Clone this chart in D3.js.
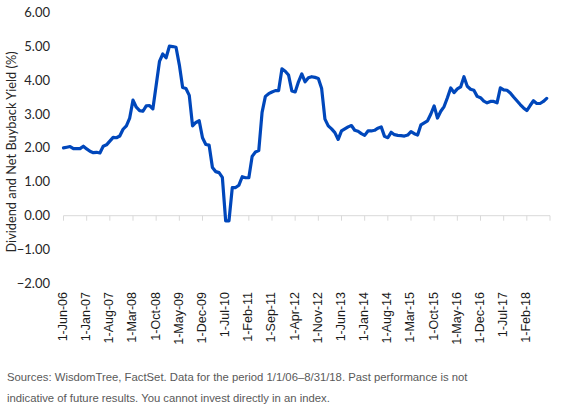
<!DOCTYPE html>
<html>
<head>
<meta charset="utf-8">
<script src="https://cdn.jsdelivr.net/npm/d3@7"></script>
<style>
  body { margin: 0; background: #fff; }
  svg { display: block; }
</style>
</head>
<body>
<div id="chart"></div>
<script>
// monthly yield, 1-Jun-06 .. 1-Aug-18
var yields = [
  2.00, 2.02, 2.04, 1.98, 1.98, 1.98, 2.05, 1.97, 1.90, 1.86, 1.87, 1.85,
  2.05, 2.09, 2.20, 2.31, 2.30, 2.35, 2.55, 2.65, 2.88, 3.41, 3.20, 3.10,
  3.08, 3.24, 3.25, 3.15, 3.85, 4.55, 4.77, 4.66, 5.00, 4.99, 4.97, 4.45,
  3.78, 3.75, 3.55, 2.65, 2.75, 2.80, 2.30, 2.10, 2.08, 1.42, 1.30, 1.27,
  1.13, -0.15, -0.15, 0.83, 0.83, 0.90, 1.15, 1.12, 1.12, 1.75, 1.88, 1.92,
  3.05, 3.52, 3.60, 3.65, 3.69, 3.69, 4.33, 4.26, 4.15, 3.68, 3.65, 3.95,
  4.18, 3.95, 4.07, 4.10, 4.08, 4.05, 3.75, 2.85, 2.65, 2.56, 2.45, 2.25,
  2.50, 2.56, 2.62, 2.66, 2.52, 2.49, 2.42, 2.37, 2.50, 2.50, 2.52, 2.58,
  2.62, 2.34, 2.30, 2.46, 2.39, 2.37, 2.36, 2.35, 2.38, 2.48, 2.42, 2.38,
  2.68, 2.74, 2.80, 3.00, 3.24, 2.88, 3.08, 3.22, 3.48, 3.77, 3.63, 3.74,
  3.80, 4.10, 3.82, 3.73, 3.70, 3.52, 3.48, 3.38, 3.33, 3.37, 3.37, 3.33,
  3.77, 3.71, 3.70, 3.62, 3.50, 3.39, 3.28, 3.18, 3.10, 3.25, 3.39, 3.31,
  3.31, 3.37, 3.46
];

var tickLabels = ["1-Jun-06", "1-Jan-07", "1-Aug-07", "1-Mar-08", "1-Oct-08", "1-May-09",
  "1-Dec-09", "1-Jul-10", "1-Feb-11", "1-Sep-11", "1-Apr-12", "1-Nov-12", "1-Jun-13",
  "1-Jan-14", "1-Aug-14", "1-Mar-15", "1-Oct-15", "1-May-16", "1-Dec-16", "1-Jul-17", "1-Feb-18"];

var yTicks = [-2, -1, 0, 1, 2, 3, 4, 5, 6];

var footnote = [
  "Sources: WisdomTree, FactSet. Data for the period 1/1/06\u20138/31/18. Past performance is not",
  "indicative of future results. You cannot invest directly in an index."
];

var width = 579, height = 410;
var tickStep = 7; // months between labels

var svg = d3.select("#chart").append("svg")
    .attr("width", width)
    .attr("height", height);

svg.append("rect").attr("width", width).attr("height", height).attr("fill", "#fff");

// month index scale (one extra month at the end, like the source axis)
var x = d3.scaleLinear()
    .domain([0, yields.length])
    .range([63.5, 550]);

var y = d3.scaleLinear()
    .domain([-2, 6])
    .range([283.5, 12.3]);

// y labels
svg.append("g")
  .selectAll("text")
  .data(yTicks)
  .enter().append("text")
    .attr("x", 50)
    .attr("y", function(d) { return y(d); })
    .attr("dy", "0.35em")
    .attr("text-anchor", "end")
    .style("font-family", "Lato, 'Open Sans', sans-serif")
    .style("font-size", "13px")
    .style("fill", "#262626")
    .text(function(d) { return d3.format(".2f")(d); });

// y title
svg.append("text")
    .attr("transform", "translate(16," + 152 + ")rotate(-90)")
    .attr("text-anchor", "middle")
    .style("font-family", "Lato, 'Open Sans', sans-serif")
    .style("font-size", "12.8px")
    .style("fill", "#262626")
    .text("Dividend and Net Buyback Yield (%)");

// zero axis with tick marks
var tickIdx = d3.range(0, yields.length + 1, tickStep);
var axis = svg.append("g");
axis.append("line")
    .attr("x1", x(0)).attr("x2", x(yields.length))
    .attr("y1", y(0)).attr("y2", y(0))
    .attr("stroke", "#d9d9d9")
    .attr("stroke-width", 1);
axis.selectAll(".tk")
  .data(tickIdx)
  .enter().append("line")
    .attr("class", "tk")
    .attr("x1", function(d) { return x(d); })
    .attr("x2", function(d) { return x(d); })
    .attr("y1", y(0))
    .attr("y2", y(0) + 5)
    .attr("stroke", "#d9d9d9");

// x labels at the bottom of the plot
svg.append("g")
  .selectAll("text")
  .data(tickLabels)
  .enter().append("text")
    .attr("transform", function(d, i) {
      return "translate(" + (x(i * tickStep) - 1) + ",292)rotate(-90)";
    })
    .attr("dy", "0.35em")
    .attr("text-anchor", "end")
    .style("font-family", "'Liberation Sans', Arial, sans-serif")
    .style("font-size", "12.5px")
    .style("fill", "#1a1a1a")
    .text(function(d) { return d; });

// the line
var line = d3.line()
    .x(function(d, i) { return x(i); })
    .y(function(d) { return y(d); });

svg.append("path")
    .datum(yields)
    .attr("d", line)
    .attr("fill", "none")
    .attr("stroke", "#0047bb")
    .attr("stroke-width", 3.2)
    .attr("stroke-linejoin", "round")
    .attr("stroke-linecap", "round");

// footnote
svg.append("g")
  .selectAll("text")
  .data(footnote)
  .enter().append("text")
    .attr("x", 7)
    .attr("y", function(d, i) { return 381 + i * 20.5; })
    .style("font-family", "'Liberation Sans', Arial, sans-serif")
    .style("font-size", "11.3px")
    .style("fill", "#595959")
    .text(function(d) { return d; });
</script>
</body>
</html>
